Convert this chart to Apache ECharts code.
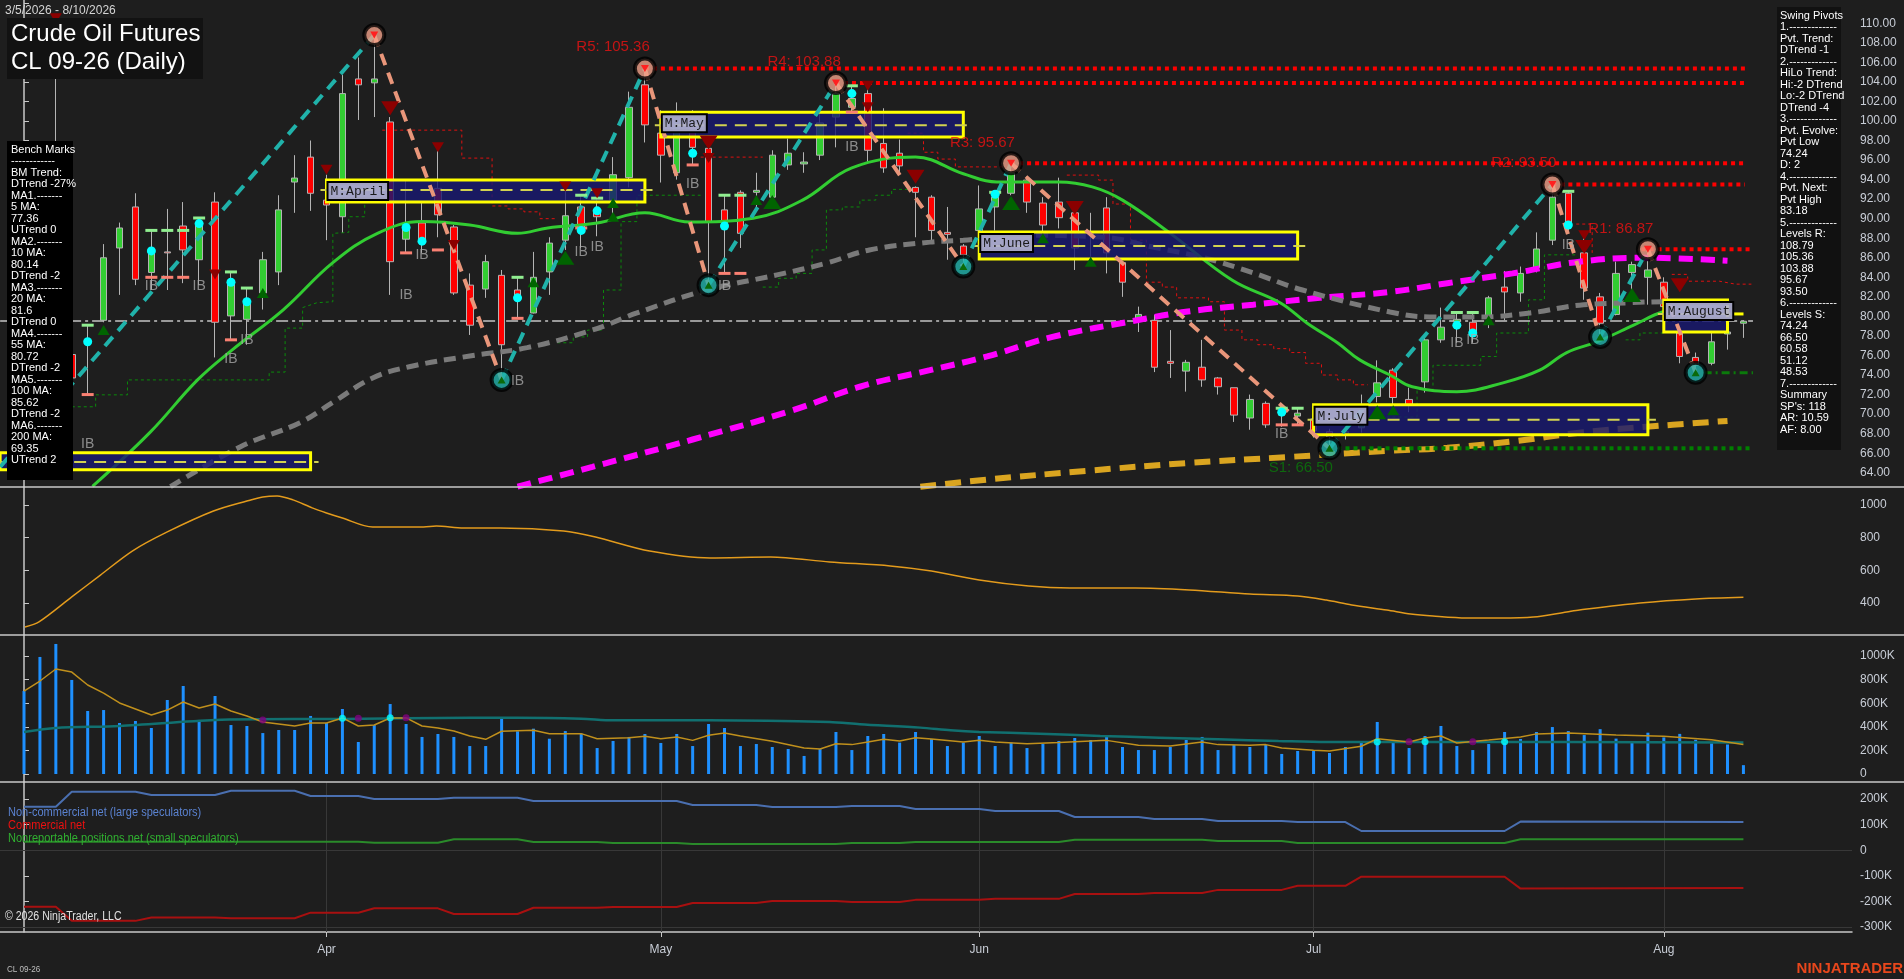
<!DOCTYPE html>
<html>
<head>
<meta charset="utf-8">
<title>Crude Oil Futures CL 09-26 (Daily)</title>
<script src="https://cdn.jsdelivr.net/npm/echarts@6/dist/echarts.min.js"></script>
<style>
  html, body { margin: 0; padding: 0; background: #1e1e1e; }
  #chart { width: 1904px; height: 979px; }
</style>
</head>
<body>
<div id="chart"></div>
<script>
// ---- bars (index 0 = 3/5/2026, index 108 = 8/10/2026) ----
const opens = [76.0,78.0,78.0,76.1,77.2,79.6,87.0,91.2,84.5,86.6, 89.25,85.8,91.7,80.05,79.7,82.4,84.55,93.75,96.3,91.9,
  90.2,104.3,103.9,99.9,87.9,89.56,93.1,89.15,83.2,82.8, 84.2,82.7,80.35,84.55,87.8,91.2,90.9,91.9,94.2,103.7,
  98.75,94.7,99.4,97.2,90.9,92.7,92.7,92.2,95.5,95.6, 96.5,100.4,101.4,102.8,97.7,96.7,93.2,92.2,88.6,87.2,
  88.8,91.2,92.6,93.95,91.6,91.7,90.6,88.6,91.1,85.5, 79.7,79.6,75.4,74.4,74.8,73.7,72.7,69.6,71.1,70.1,
  69.8,69.5,68.2,67.9,68.6,71.8,74.5,71.5,73.3,77.6, 79.5,79.4,79.8,83.0,82.4,85.0,87.8,92.6,86.5,82.0,
  80.2,84.5,84.0,83.5,78.3,75.8,75.2,78.2,79.3];
const closes = [78.0,77.0,75.5,73.7,77.5,86.0,89.05,83.8,86.5,86.5, 86.8,89.6,79.4,83.7,81.5,85.8,90.9,94.16,92.6,91.4,
  102.8,103.7,104.3,85.6,89.0,87.8,90.4,82.4,79.1,85.6, 77.1,82.0,84.0,87.5,90.3,88.8,90.2,94.5,101.4,99.6,
  96.5,100.8,97.3,89.7,89.15,88.5,92.9,96.5,96.7,95.8, 99.8,102.8,102.3,97.0,95.2,95.4,92.7,88.8,88.4,86.3,
  91.0,92.2,94.7,91.7,89.35,90.1,87.0,88.4,86.5,83.5, 80.2,74.8,75.2,75.3,73.5,72.8,69.9,71.5,68.9,69.9,
  70.1,68.3,67.7,68.2,70.3,73.2,71.7,71.0,77.6,78.9, 79.7,78.4,81.9,82.5,84.4,86.9,92.2,89.35,82.9,79.3,
  84.4,85.3,84.75,81.0,75.9,75.0,77.4,78.4,79.5];
const highs = [79.0,81.0,110.2,77.0,79.1,87.4,89.6,92.6,88.8,91.0, 91.7,90.1,92.7,84.55,82.9,86.6,92.4,96.5,98.0,94.5,
  104.7,106.5,108.79,100.4,94.0,91.6,97.0,89.35,84.4,86.3, 84.75,84.0,86.6,88.1,93.6,92.4,92.1,96.3,103.0,105.36,
  101.1,101.9,101.1,98.0,92.4,92.9,94.7,97.0,98.2,96.8, 100.8,103.88,103.7,103.3,101.3,98.1,93.3,92.4,91.2,87.4,
  93.4,92.7,95.67,94.3,92.2,94.2,90.9,90.6,92.2,85.6, 81.0,80.15,78.6,75.55,77.6,73.8,72.7,72.0,71.3,70.6,
  70.7,70.2,68.5,68.5,72.0,75.5,74.7,72.7,77.8,80.9, 80.4,80.4,82.1,84.65,85.1,88.6,93.5,92.8,88.5,82.4,
  85.6,85.6,86.87,84.0,78.6,76.3,78.3,79.4,79.6];
const lows = [74.0,76.0,73.0,72.5,72.0,79.4,82.2,83.2,82.7,82.7, 83.4,83.2,75.8,77.6,77.1,80.7,83.2,90.6,90.8,87.8,
  88.6,100.1,100.4,82.2,86.5,86.5,88.1,82.2,78.1,81.9, 73.5,79.8,80.3,82.2,86.8,87.0,88.2,89.9,93.2,97.8,
  93.7,94.0,95.6,83.2,84.4,87.0,91.1,91.9,95.0,94.7, 96.0,97.3,100.9,95.7,94.7,94.5,88.1,87.5,85.8,85.1,
  88.5,88.8,92.4,90.6,88.5,89.0,84.75,86.1,84.4,82.0, 78.4,74.3,73.7,72.3,72.8,72.0,69.2,68.4,68.6,68.7,
  68.9,67.6,66.5,67.4,68.1,71.2,70.6,70.2,72.2,77.3, 77.3,77.3,78.8,79.6,81.5,84.5,87.3,88.8,81.7,77.9,
  80.1,81.5,81.2,80.5,75.2,74.24,75.0,76.6,77.8];
// volume in K contracts
const volumes = [703,992,1102,797,534,542,432,449,390,627, 746,458,661,415,407,347,373,373,492,432,
  551,271,415,593,424,314,339,314,237,237, 483,362,384,299,364,342,220,280,314,339,
  263,339,237,424,390,237,254,229,212,153, 212,356,203,322,339,266,356,297,237,266,
  322,237,266,220,254,280,305,288,314,229, 203,203,229,288,314,203,246,229,246,170,
  195,195,178,229,263,441,271,220,322,407, 237,203,254,356,297,356,398,364,330,380,
  300,270,350,310,340,290,260,250,75];

// moving averages, [bar index, price]
const ma20 = [[4.3,62.6],[7.9,68.1],[10.9,73.5],[13.1,76.6],[16.3,80.7],[19.4,85.5],[22.2,88.5],[25,89.7],[28,89.35],
  [31,88.5],[32.9,89.05],[36,89.55],[39,90.6],[41.8,89.65],[45.8,90.05],[48.9,91.9],[52,95.2],[56,96.3],[59,94.6],
  [61.1,93.75],[65,93.75],[67.1,93.25],[69,91.9],[72,88.5],[75.9,83.7],[78.9,81.4],[80.6,79.3],[82.5,77.3],
  [83.9,75.55],[85.8,74.0],[87.2,72.8],[90,72.3],[92.9,73.2],[95.2,74.5],[96.9,76.3],[98.8,77.4],[101.1,79.1],
  [103,80.5],[105,81.0],[107,81.4]];
const ma55 = [[9.2,62.57],[13.6,66.66],[17.3,69.1],[19.4,71.2],[21.9,73.7],[24.2,74.85],[28,75.95],[31.6,76.8],
  [35.7,78.6],[38.5,80.35],[42.9,82.7],[47.3,84.25],[50.4,85.45],[53.1,86.8],[56.9,87.6],[59,87.8],[62.6,88.3],
  [67.8,88.1],[70.9,87.1],[74.1,86.0],[77.2,84.45],[80.3,82.7],[85.8,80.45],[88.3,79.95],[91.5,79.95],[94.6,80.35],
  [97.7,81.15],[100.9,81.4],[103,81.5],[107,81.5]];
const ma100 = [[31,62.57],[35.7,64.6],[42,67.4],[48.3,70.4],[52.5,72.8],[56.9,74.5],[60.5,75.9],[64.6,77.9],
  [69.9,79.6],[73.1,80.5],[77.2,81.2],[81.4,81.9],[85.8,82.5],[89.4,83.4],[93.5,84.4],[97.7,85.6],[101.9,86.0],[107,85.7]];
const ma200 = [[56.3,62.57],[60.5,63.3],[66.8,64.2],[73.1,65.0],[79.3,65.6],[85.8,66.25],[89.4,66.55],[93.5,67.2],
  [97.7,68.1],[101.9,68.7],[107,69.3]];

// trailing stop steps (dotted)
const greenTrail = [
  [[3,70.75],[4.5,70.75],[4.5,71.97],[6.5,71.97],[6.5,73.5],[15.4,73.5],[15.4,74.3],[16.4,74.3],[16.4,78.8],[17.5,78.8],
   [17.5,80.9],[18.4,81.4],[19.4,81.5],[19.4,88.5],[20.4,88.6],[20.4,90.2],[21.4,90.2],[21.4,92.2],[22.5,92.2]],
  [[33.5,77.3],[34.5,77.3],[34.5,77.9],[35.4,77.9],[35.4,78.6],[36.4,78.6],[36.4,82.7],[37.5,82.7],[37.5,89.7],
   [38.5,89.7],[38.5,92.4],[42.5,92.4]],
  [[46.4,83.0],[47.4,83.0],[47.4,83.9],[48.5,83.9],[48.5,84.4],[49.5,84.4],[49.5,86.8],[50.4,86.8],[50.4,90.9],
   [51.4,90.9],[51.4,91.2],[52.5,91.2],[52.5,91.9],[53.5,91.9],[53.5,92.4],[54.5,92.4],[54.5,93.0],[55.5,93.0]],
  [[85.2,69.7],[87.5,69.7],[87.5,72.5],[88.5,72.5],[88.5,75.0],[91.5,75.0],[91.5,75.9],[92.5,75.9],[92.5,78.3],
   [94.5,78.3],[94.5,81.7],[95.5,81.7],[95.5,86.3],[97.5,86.3]],
  [[100.6,77.6],[101.5,77.6],[101.5,78.3],[103,78.3]]
];
const redTrail = [
  [[22.5,99.06],[27.5,99.06],[27.5,96.2],[29.4,96.2],[29.4,91.3],[30.4,91.3],[30.4,91.0],[31.4,91.0],[31.4,90.7],
   [32.4,90.7],[32.4,90.0],[33.5,90.0]],
  [[42.5,96.3],[46.4,96.3]],
  [[55.5,98.75],[56.5,98.75],[56.5,96.8],[57.4,96.8],[57.4,96.1],[58.5,96.1],[58.5,95.3],[61.5,95.3]],
  [[65.5,94.46],[67.5,94.46],[67.5,93.95],[68.4,93.95],[68.4,91.5],[69.5,91.5],[69.5,87.8],[70.5,87.8],[70.5,83.5],
   [71.5,83.5],[71.5,83.0],[72.4,83.0],[72.4,81.9],[74.4,81.9],[74.4,81.5],[75.4,81.5],[75.4,78.6],[76.5,78.6],
   [76.5,77.6],[77.5,77.6],[77.5,77.1],[78.5,77.1],[78.5,76.7],[79.5,76.7],[79.5,76.3],[80.5,76.3],[80.5,75.2],
   [81.5,75.2],[81.5,74.0],[82.5,74.0],[82.5,73.5],[83.5,73.5],[83.5,73.0],[84.4,73.0]],
  [[97.5,89.45],[98.5,89.45],[98.5,86.5]],
  [[103.5,84.3],[104.5,84.3],[104.5,83.6],[106.5,83.6],[107.5,83.3],[108.5,83.3]]
];

// swing pivots (zigzag)
const zigzag = [[-1.5,64.6],[22,108.79],[30,73.5],[39,105.36],[43,83.2],[51,103.88],[59,85.1],[62,95.67],
  [82,66.50],[96,93.50],[99,77.9],[102,86.87],[105,74.24]];
const resNames = ['R5','R4','R3','R2','R1'];
const resLevels = [105.36, 103.88, 95.67, 93.50, 86.87];
const resFrom = [39, 51, 62, 96, 101.6];
const resLabelAt = [[37.0,107.55],[49.0,106.0],[60.2,97.8],[94.2,95.7],[100.3,89.0]];
const s1Level = 66.50, s1From = 82, s1LabelAt = [80.2,64.5];
const pvtLow = 74.24;
const lastPrice = 79.54;

// monthly range boxes
const boxNames = ['', 'M:April', 'M:May', 'M:June', 'M:July', 'M:August'];
const boxFrom = [-1.5, 19, 40, 60, 81, 103];
const boxTo = [18, 39, 59, 80, 102, 107];
const boxTop = [66.05, 93.95, 100.9, 88.64, 70.95, 81.69];
const boxBottom = [64.3, 91.7, 98.35, 85.88, 67.89, 78.41];
const boxMid = [65.1, 92.93, 99.57, 87.2, 69.42, 80.25];

// markers
const downBig = [[23,101.3],[43,97.8],[56,94.3],[66,91.1],[98,87.1],[104,83.2]];
const downSmall = [[2,110.5],[19,95.0],[26,97.3],[27,87.3],[12,84.3],[34,93.3],[36,92.6],[43,96.2],[53,103.6],[53,101.4],[98,88.3]];
const upBig = [[34,86.0],[47,91.7],[62,91.6],[85,70.2],[101,82.2]];
const upSmall = [[5,78.6],[15,82.4],[32,83.5],[37,91.6],[37,90.2],[46,91.9],[64,88.0],[67,85.6],[86,70.4],[92,79.6]];
const cyanDots = [[4,77.4],[8,86.7],[11,89.5],[13,83.5],[14,81.5],[24,89.1],[25,87.7],[31,81.9],[35,88.8],[36,90.8],
  [42,96.7],[44,89.25],[52,102.8],[61,92.5],[79,70.2],[90,79.1],[91,78.3],[97,89.35]];
const ibMarks = [[8,83.1],[11,83.1],[13,75.6],[14,77.6],[25,86.3],[24,82.2],[4,66.9],[35,86.6],[36,87.1],[31,73.4],
  [42,93.5],[44,83.1],[52,97.3],[79,68.0],[90,77.3],[91,77.6],[97,87.3]];
const hiTicks = [[4,79.1],[8,88.8],[9,88.8],[10,88.8],[11,90.07],[13,84.55],[14,82.9],[31,84.0],[35,92.4],[36,92.1],
  [44,92.4],[45,92.4],[52,103.6],[61,92.7],[79,70.6],[80,70.6],[90,80.4],[91,80.4],[97,92.8]];
const loTicks = [[4,72.0],[8,84.0],[9,84.0],[10,84.0],[13,77.6],[24,86.5],[26,86.8],[31,79.8],[35,89.05],[42,95.5],
  [44,84.4],[45,84.4],[52,100.9],[79,68.9],[80,68.9]];

// second panel oscillator
const osc = [[0.06,253],[0.94,284],[3,437],[4.8,571],[6.8,718],[9,835],[11.9,963],[14,1024],[15,1049],[15.9,1055],
  [16.9,1031],[18.1,982],[19,951],[20,920],[21.9,865],[25.1,865],[25.9,871],[27.6,859],[29.9,859],[33.9,841],
  [35.9,804],[39.3,718],[43.1,676],[46.9,682],[50.6,651],[54.4,627],[57,596],[60,541],[63.1,504],[65.7,492],
  [69.8,492],[73.2,480],[77,455],[80,443],[81.8,418],[83.4,388],[85.6,357],[87.1,333],[88.5,320],[90.6,308],
  [92.7,308],[94.8,314],[96.9,345],[97.7,357],[101.5,400],[105,425],[108,435]];

// volume averages
const volFast = [[0,703],[1,788],[2,890],[3,864],[4,754],[5,686],[6,602],[7,551],[8,500],[9,542],[10,610],[11,559],
  [12,593],[13,534],[14,492],[15,441],[16,424],[17,407],[18,432],[19,432],[20,475],[21,407],[22,415],[23,475],[24,475],
  [25,407],[26,390],[27,364],[28,322],[29,294],[30,362],[32,370],[33,342],[35,342],[36,299],[38,308],[39,319],[40,299],
  [41,314],[42,285],[43,328],[44,347],[45,322],[47,277],[49,220],[50,212],[51,257],[52,249],[53,271],[54,294],[55,280],
  [56,308],[57,297],[59,271],[60,285],[61,271],[63,257],[65,266],[67,280],[68,285],[70,243],[72,237],[74,271],[75,249],
  [77,243],[78,249],[79,220],[81,201],[82,195],[84,235],[85,299],[87,271],[88,305],[89,322],[90,263],[92,288],[94,314],
  [95,340],[97,347],[100,330],[103,320],[106,290],[108,250]];
const volSlow = [[0,356],[2,390],[6,407],[12,458],[17,466],[20,466],[28,477],[31,477],[35,469],[37,455],[43,455],
  [50.6,441],[52.5,422],[56.3,393],[58.2,370],[60,356],[63.8,342],[67.6,322],[71.3,308],[75,294],[78.8,280],
  [81.8,271],[97,271],[108,268]];
const volCrossDn = [[15,458],[21,472],[24,477],[87,274],[91,274]];
const volCrossUp = [[20,472],[23,477],[85,271],[88,274],[93,274]];

// COT net positions (K)
const cotLarge = [[0,170],[2,170],[3,228.5],[7,228.5],[8,215.6],[12,215.6],[13,232.4],[17,232.4],[18,212],[21,212],
  [22,200],[26,200],[27,205],[31,205],[32,192],[41,192],[42,176.6],[46,176.6],[47,168.8],[51,168.8],[52,172.7],
  [55,172.7],[56,161],[60,161],[61,153],[65,153],[66,129.7],[70,129.7],[71,122],[74,122],[75,114],[79,114],[80,110],
  [83,110],[84,75],[93,75],[94,112],[108,110]];
const cotComm = [[0,-221],[2,-221],[3,-276],[7,-276],[8,-263],[12,-263],[13,-266],[17,-266],[18,-244],[21,-244],
  [22,-227],[26,-227],[27,-249],[31,-249],[32,-225],[36,-225],[37,-222],[41,-222],[42,-206],[46,-206],[47,-198],
  [51,-198],[52,-202],[55,-202],[56,-194],[60,-194],[61,-190],[65,-190],[66,-171],[70,-171],[71,-167],[74,-167],
  [75,-155],[79,-155],[80,-139],[83,-139],[84,-103.5],[93,-103.5],[94,-150],[108,-148]];
const cotSmall = [[0,33],[21,33],[22,29],[26,29],[27,42.5],[31,42.5],[32,32],[36,32],[37,28],[41,28],[42,24],[51,24],
  [52,28],[55,28],[56,32],[65,32],[66,41],[74,41],[75,36],[79,36],[80,28],[93,28],[94,43],[108,43]];

// axis ticks
const monthStarts = [19, 40, 60, 81, 103];
const monthNames = ['Apr', 'May', 'Jun', 'Jul', 'Aug'];
const priceTicks = [64,66,68,70,72,74,76,78,80,82,84,86,88,90,92,94,96,98,100,102,104,106,108,110];
const oscTicks = [400, 600, 800, 1000];
const volTicks = [0, 200, 400, 600, 800, 1000];
const cotTicks = [-300, -200, -100, 0, 100, 200];

const benchText = ['Bench Marks','------------','BM Trend:','DTrend -27%','MA1.-------','5 MA:','77.36','UTrend 0',
  'MA2.-------','10 MA:','80.14','DTrend -2','MA3.-------','20 MA:','81.6','DTrend 0','MA4.-------','55 MA:','80.72',
  'DTrend -2','MA5.-------','100 MA:','85.62','DTrend -2','MA6.-------','200 MA:','69.35','UTrend 2'];
const pivotText = ['Swing Pivots','1.-------------','Pvt. Trend:','DTrend -1','2.-------------','HiLo Trend:',
  'Hi:-2 DTrend','Lo:-2 DTrend','DTrend -4','3.-------------','Pvt. Evolve:','Pvt Low','74.24','D: 2',
  '4.-------------','Pvt. Next:','Pvt High','83.18','5.-------------','Levels R:','108.79','105.36','103.88','95.67',
  '93.50','6.-------------','Levels S:','74.24','66.50','60.58','51.12','48.53','7.-------------','Summary',
  "SP's: 118",'AR: 10.59','AF: 8.00'];

// ---------------------------------------------------------------
const AXIS = '#c8c8c8';
const LBL = '#c8cdd6';
const SANS = '"Liberation Sans", Arial, sans-serif';
const NARROW = '"Liberation Sans Narrow", "Liberation Sans", sans-serif';
const xMin = -1.5075, xMax = 114.82;

const chart = echarts.init(document.getElementById('chart'));

function kFmt(v) { return v === 0 ? '0' : v + 'K'; }

function yAx(grid, min, max, ticks, fmt, tickOnly) {
  return {
    type: 'value', gridIndex: grid, position: 'right', min: min, max: max,
    axisLine: { show: true, lineStyle: { color: AXIS, width: 1.5 } },
    axisTick: { show: true, length: 5, customValues: tickOnly || ticks, lineStyle: { color: AXIS } },
    axisLabel: { customValues: ticks, formatter: fmt, color: LBL, fontSize: 12, fontFamily: SANS, margin: 8 },
    splitLine: { show: false }
  };
}

function xAx(grid, show) {
  return {
    type: 'value', gridIndex: grid, min: xMin, max: xMax, show: show,
    axisLine: { show: true, onZero: false, lineStyle: { color: AXIS, width: 1.5 } },
    axisTick: { show: true, length: 5, customValues: monthStarts, lineStyle: { color: AXIS } },
    axisLabel: {
      customValues: monthStarts, color: LBL, fontSize: 12, fontFamily: SANS, margin: 12,
      formatter: v => monthNames[monthStarts.indexOf(v)] || ''
    },
    splitLine: { show: false }
  };
}

function segLines(pairs, color, width, dash, z) {
  return {
    type: 'lines', coordinateSystem: 'cartesian2d', xAxisIndex: 0, yAxisIndex: 0, polyline: true, silent: true, z: z,
    lineStyle: { color: color, width: width, type: dash, opacity: 1 },
    data: pairs.map(p => ({ coords: p }))
  };
}

function maLine(name, pts, color, width, dash, z) {
  return {
    name: name, type: 'line', xAxisIndex: 0, yAxisIndex: 0, data: pts, smooth: 0.4, showSymbol: false, silent: true,
    z: z, lineStyle: { color: color, width: width, type: dash, cap: 'butt' }
  };
}

function marks(pts, symbol, size, color, rotate, z) {
  return {
    type: 'scatter', xAxisIndex: 0, yAxisIndex: 0, data: pts, symbol: symbol, symbolSize: size,
    symbolRotate: rotate || 0, silent: true, z: z || 6, itemStyle: { color: color, opacity: 1 }
  };
}

// zigzag legs split by direction
const upLegs = [], dnLegs = [];
for (let i = 1; i < zigzag.length; i++) {
  const leg = [zigzag[i - 1], zigzag[i]];
  (zigzag[i][1] > zigzag[i - 1][1] ? upLegs : dnLegs).push(leg);
}
const pivotHighs = zigzag.slice(1).filter((p, i) => p[1] > zigzag[i][1]);
const pivotLows = zigzag.slice(1).filter((p, i) => p[1] < zigzag[i][1]);

const resLines = resLevels.map((lv, i) => [[resFrom[i], lv], [i === 4 ? 108.6 : 108.1, lv]]);

const candles = opens.map((o, i) => [i, o, closes[i], lows[i], highs[i]]);
const boxData = boxFrom.map((f, i) => [f, boxTo[i], boxTop[i], boxBottom[i], boxMid[i]]);

const series = [
  {
    name: 'CL 09-26', type: 'candlestick', xAxisIndex: 0, yAxisIndex: 0, barWidth: 7, silent: true, z: 3,
    dimensions: ['x', 'open', 'close', 'lowest', 'highest'],
    encode: { x: 'x', y: ['open', 'close', 'lowest', 'highest'] },
    itemStyle: { color: '#32cd32', color0: '#ff0000', borderColor: '#b4b4b4', borderColor0: '#b4b4b4', borderWidth: 1 },
    data: candles
  },
  segLines([[[-1.5, lastPrice], [108.6, lastPrice]]], '#9a9a9a', 2, [12, 4, 3, 4], 2),
  segLines(greenTrail, '#0b8a0b', 1, [3, 3], 2),
  segLines(redTrail, '#e01010', 1, [3, 3], 2),
  maLine('200 MA', ma200, '#daa520', 6, [16, 9], 4),
  maLine('100 MA', ma100, '#ff00ff', 6, [14, 8], 4),
  maLine('55 MA', ma55, '#7a7a7a', 5, [12, 7], 4),
  maLine('20 MA', ma20, '#32cd32', 3, 'solid', 4),
  {
    // monthly range boxes
    type: 'custom', xAxisIndex: 0, yAxisIndex: 0, silent: true, z: 5, clip: true,
    data: boxData,
    encode: { x: [0, 1], y: [2, 3] },
    renderItem: function (params, api) {
      const a = api.coord([api.value(0), api.value(2)]);
      const b = api.coord([api.value(1), api.value(3)]);
      const m = api.coord([api.value(0), api.value(4)]);
      const kids = [
        { type: 'rect', shape: { x: a[0], y: a[1], width: b[0] - a[0], height: b[1] - a[1] },
          style: { fill: 'rgba(25,25,112,0.82)', stroke: '#ffff00', lineWidth: 3 } },
        { type: 'line', shape: { x1: a[0] - 6, y1: m[1], x2: b[0] + 8, y2: m[1] },
          style: { stroke: '#d2d250', lineWidth: 2, lineDash: [12, 8] } }
      ];
      if (params.dataIndex === boxNames.length - 1) {
        kids.push({ type: 'line', shape: { x1: b[0], y1: m[1], x2: b[0] + 16, y2: m[1] },
          style: { stroke: '#ffff00', lineWidth: 3 } });
      }
      return { type: 'group', children: kids };
    }
  },
  segLines(resLines, '#ff0000', 4, [4, 4], 5),
  segLines([[[s1From, s1Level], [108.4, s1Level]]], '#008000', 4, [4, 4], 5),
  segLines([[[105.5, pvtLow], [108.6, pvtLow]]], '#0b7a0b', 3, [8, 4, 2, 4], 5),
  segLines(upLegs, '#20b2aa', 4, [12, 8], 6),
  segLines(dnLegs, '#e9967a', 4, [12, 8], 6),
  {
    // month box captions, drawn above the swing legs
    type: 'custom', xAxisIndex: 0, yAxisIndex: 0, silent: true, z: 7, clip: true,
    data: boxData,
    encode: { x: [0, 1], y: [2, 3] },
    renderItem: function (params, api) {
      const name = boxNames[params.dataIndex];
      if (!name) return null;
      const a = api.coord([api.value(0), api.value(2)]);
      return { type: 'text', x: a[0] + 2, y: a[1] + 3,
        style: { text: name, fill: '#1a1a1a', font: '13px "Liberation Mono", monospace',
          backgroundColor: 'rgba(176,176,208,0.92)', borderColor: '#000000', borderWidth: 2, padding: [2, 2, 1, 2] } };
    }
  },
  marks(hiTicks, 'rect', [12, 3], '#90ee90', 0, 6),
  marks(loTicks, 'rect', [12, 3], '#fa8072', 0, 6),
  marks(downBig, 'triangle', [18, 14], '#8b0000', 180, 6),
  marks(downSmall, 'triangle', [12, 10], '#8b0000', 180, 6),
  marks(upBig, 'triangle', [18, 14], '#006400', 0, 6),
  marks(upSmall, 'triangle', [12, 10], '#006400', 0, 6),
  marks(cyanDots, 'circle', 9, '#00ffff', 0, 7),
  {
    type: 'scatter', xAxisIndex: 0, yAxisIndex: 0, data: pivotHighs, symbol: 'circle', symbolSize: 20, silent: true, z: 8,
    itemStyle: { color: '#f0a088', borderColor: '#000000', borderWidth: 4 }
  },
  {
    type: 'scatter', xAxisIndex: 0, yAxisIndex: 0, data: pivotLows, symbol: 'circle', symbolSize: 20, silent: true, z: 8,
    itemStyle: { color: '#20b2aa', borderColor: '#000000', borderWidth: 4 }
  },
  marks(pivotHighs, 'triangle', [8, 7], '#ff2020', 180, 9),
  marks(pivotLows, 'triangle', [8, 7], '#0a6a0a', 0, 9),
  {
    type: 'scatter', xAxisIndex: 0, yAxisIndex: 0, data: ibMarks, symbolSize: 1, silent: true, z: 9,
    itemStyle: { color: 'transparent' },
    label: { show: true, position: 'inside', formatter: 'IB', color: '#a8a8a8', fontSize: 14, fontFamily: NARROW }
  },
  {
    type: 'scatter', xAxisIndex: 0, yAxisIndex: 0, symbolSize: 1, silent: true, z: 9,
    itemStyle: { color: 'transparent' },
    data: resLabelAt.map((p, i) => ({ value: p, name: resNames[i] + ': ' + resLevels[i].toFixed(2) })),
    label: { show: true, position: 'inside', formatter: '{b}', color: '#ee1111', fontSize: 15, fontFamily: SANS }
  },
  {
    type: 'scatter', xAxisIndex: 0, yAxisIndex: 0, symbolSize: 1, silent: true, z: 9,
    itemStyle: { color: 'transparent' },
    data: [{ value: s1LabelAt, name: 'S1: ' + s1Level.toFixed(2) }],
    label: { show: true, position: 'inside', formatter: '{b}', color: '#0a7a0a', fontSize: 15, fontFamily: SANS }
  },

  // panel 2
  {
    type: 'line', xAxisIndex: 1, yAxisIndex: 1, data: osc, showSymbol: false, smooth: 0.3, silent: true,
    lineStyle: { color: '#e39b1c', width: 1.5 }
  },

  // panel 3: volume
  {
    type: 'bar', xAxisIndex: 2, yAxisIndex: 2, data: volumes.map((v, i) => [i, v]), barWidth: 3, silent: true,
    itemStyle: { color: '#1e90ff' }
  },
  {
    type: 'line', xAxisIndex: 2, yAxisIndex: 2, data: volSlow, showSymbol: false, smooth: 0.3, silent: true, z: 3,
    lineStyle: { color: '#117070', width: 2.5 }
  },
  {
    type: 'line', xAxisIndex: 2, yAxisIndex: 2, data: volFast, showSymbol: false, silent: true, z: 4,
    lineStyle: { color: '#c0901c', width: 1.5 }
  },
  {
    type: 'scatter', xAxisIndex: 2, yAxisIndex: 2, data: volCrossDn, symbolSize: 7, silent: true, z: 5,
    itemStyle: { color: '#800080' }
  },
  {
    type: 'scatter', xAxisIndex: 2, yAxisIndex: 2, data: volCrossUp, symbolSize: 7, silent: true, z: 5,
    itemStyle: { color: '#00ffff' }
  },

  // panel 4: COT
  {
    name: 'Non-commercial net (large speculators)', type: 'line', xAxisIndex: 3, yAxisIndex: 3, data: cotLarge,
    showSymbol: false, silent: true, z: 4, lineStyle: { color: '#4a6fb0', width: 2 },
    markLine: {
      silent: true, symbol: 'none', label: { show: false }, z: 1,
      lineStyle: { color: '#383838', width: 1, type: 'solid' },
      data: monthStarts.map(v => ({ xAxis: v })).concat([{ yAxis: 0 }, { yAxis: -300 }])
    }
  },
  {
    name: 'Commercial net', type: 'line', xAxisIndex: 3, yAxisIndex: 3, data: cotComm,
    showSymbol: false, silent: true, z: 4, lineStyle: { color: '#a81010', width: 2 }
  },
  {
    name: 'Nonreportable positions net (small speculators)', type: 'line', xAxisIndex: 3, yAxisIndex: 3, data: cotSmall,
    showSymbol: false, silent: true, z: 4, lineStyle: { color: '#2a8a2a', width: 2 }
  }
];

const Z = 100;
// narrow text: squeeze regular sans horizontally
function narrowText(x, y, text, fill, size, sx) {
  return { type: 'text', x: x, y: y, z: Z, scaleX: sx,
    style: { text: text, fill: fill, font: size + 'px ' + SANS, verticalAlign: 'top' } };
}
const graphic = [
  { type: 'line', shape: { x1: 0, y1: 487, x2: 1904, y2: 487 }, style: { stroke: AXIS, lineWidth: 1.5 }, z: Z },
  { type: 'line', shape: { x1: 0, y1: 635, x2: 1904, y2: 635 }, style: { stroke: AXIS, lineWidth: 1.5 }, z: Z },
  { type: 'line', shape: { x1: 0, y1: 782, x2: 1904, y2: 782 }, style: { stroke: AXIS, lineWidth: 1.5 }, z: Z },
  narrowText(5, 5, '3/5/2026 - 8/10/2026', '#d4d4d4', 12, 1),
  { type: 'rect', shape: { x: 7, y: 18, width: 196, height: 61 }, style: { fill: '#121212' }, z: Z },
  { type: 'text', x: 11, y: 22, z: Z + 1,
    style: { text: 'Crude Oil Futures', fill: '#ffffff', font: '24px ' + SANS, verticalAlign: 'top' } },
  { type: 'text', x: 11, y: 50, z: Z + 1,
    style: { text: 'CL 09-26 (Daily)', fill: '#ffffff', font: '24px ' + SANS, verticalAlign: 'top' } },
  { type: 'rect', shape: { x: 7, y: 141, width: 66, height: 339 }, style: { fill: '#000000' }, z: Z },
  { type: 'text', x: 11, y: 144, z: Z + 1,
    style: { text: benchText.join('\n'), fill: '#ffffff', font: '11px ' + SANS, lineHeight: 11.5, verticalAlign: 'top' } },
  { type: 'rect', shape: { x: 1777, y: 7, width: 64, height: 443 }, style: { fill: '#111111' }, z: Z },
  { type: 'text', x: 1780, y: 10, z: Z + 1,
    style: { text: pivotText.join('\n'), fill: '#ffffff', font: '11px ' + SANS, lineHeight: 11.5, verticalAlign: 'top' } },
  narrowText(8, 807, 'Non-commercial net (large speculators)', '#5a82d0', 12, 0.92),
  narrowText(8, 820, 'Commercial net', '#ee1010', 12, 0.92),
  narrowText(8, 833, 'Nonreportable positions net (small speculators)', '#30b030', 12, 0.92),
  narrowText(5, 911, '\u00a9 2026 NinjaTrader, LLC', '#e0e0e0', 12, 0.88),
  narrowText(7, 965, 'CL 09-26', '#bdbdbd', 9, 0.9),
  { type: 'text', x: 1903, y: 961, z: Z,
    style: { text: 'NINJATRADER', fill: '#e8471c', font: 'bold 15px ' + SANS, align: 'right', verticalAlign: 'top' } }
];

chart.setOption({
  backgroundColor: '#1e1e1e',
  animation: false,
  grid: [
    { left: 0, right: 52, top: 0, height: 487 },
    { left: 0, right: 52, top: 487, height: 148 },
    { left: 0, right: 52, top: 635, height: 147 },
    { left: 0, right: 52, top: 782, height: 150 }
  ],
  xAxis: [xAx(0, false), xAx(1, false), xAx(2, false), xAx(3, true)],
  yAxis: [
    yAx(0, 62.54, 112.38, priceTicks, v => v.toFixed(2), priceTicks.concat([112])),
    yAx(1, 204, 1110, oscTicks, v => String(v)),
    yAx(2, -67.8, 1178, volTicks, kFmt),
    yAx(3, -319.5, 266.4, cotTicks, kFmt)
  ],
  graphic: graphic,
  series: series
});
</script>
</body>
</html>
